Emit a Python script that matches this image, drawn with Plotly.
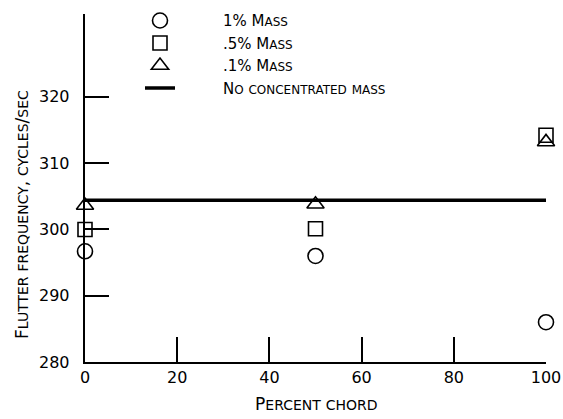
import plotly.graph_objects as go

chord = [0, 50, 100]
mass_1 = [296.7, 296.0, 286.0]
mass_05 = [300.0, 300.1, 314.2]
mass_01 = [303.6, 303.8, 313.2]
no_mass_x = [0, 100]
no_mass_y = [304.4, 304.4]
x_ticks = [0, 20, 40, 60, 80, 100]
y_ticks = [280, 290, 300, 310, 320]
y_tick_labels = ["280", "290", "300", "310", "320"]

FONT = "DejaVu Sans"

def sc(text, big=15, small=11):
    out = []
    for ch in text:
        if ch.isupper() or ch.isdigit() or ch in ".%/,":
            out.append(f"<span style='font-size:{big}px'>{ch}</span>")
        elif ch == " ":
            out.append(" ")
        else:
            out.append(f"<span style='font-size:{small}px'>{ch.upper()}</span>")
    return "".join(out)

pad = "&nbsp;" * 9
fig = go.Figure()
fig.add_trace(go.Scatter(x=chord, y=mass_1, mode="markers", name=pad + sc("1% Mass", 15, 12),
                         marker=dict(symbol="circle-open", size=15, color="black", line=dict(width=1.6)),
                         cliponaxis=False))
fig.add_trace(go.Scatter(x=chord, y=mass_05, mode="markers", name=pad + sc(".5% Mass", 15, 12),
                         marker=dict(symbol="square-open", size=14, color="black", line=dict(width=1.6)),
                         cliponaxis=False))
fig.add_trace(go.Scatter(x=chord, y=mass_01, mode="markers", name=pad + sc(".1% Mass", 15, 12),
                         marker=dict(symbol="triangle-up-open", size=15, color="black", line=dict(width=1.6)),
                         cliponaxis=False))
fig.add_trace(go.Scatter(x=no_mass_x, y=no_mass_y, mode="lines", name=pad + sc("No concentrated mass", 15, 12),
                         line=dict(color="black", width=3.5), cliponaxis=False))

fig.update_layout(
    width=563, height=419,
    margin=dict(l=85, r=17, t=14, b=57, autoexpand=False),
    plot_bgcolor="white", paper_bgcolor="white",
    font=dict(family=FONT, color="black", size=15),
    showlegend=True,
    legend=dict(x=(140 - 85) / 461, y=1.028, xanchor="left", yanchor="top",
                bgcolor="rgba(0,0,0,0)", font=dict(size=15), tracegroupgap=0,
                traceorder="normal"),
    xaxis=dict(range=[0, 100], tickvals=x_ticks, ticks="inside", ticklen=25,
               tickwidth=2.2, tickcolor="black", showline=True, linewidth=2.2, linecolor="black",
               showgrid=False, zeroline=False, tickfont=dict(size=16), automargin=False),
    yaxis=dict(range=[280, 332.5], tickvals=y_ticks, ticktext=[t + "\u2007" for t in y_tick_labels],
               ticks="inside", ticklen=24,
               tickwidth=2.2, tickcolor="black", showline=True, linewidth=2.2, linecolor="black",
               showgrid=False, zeroline=False, tickfont=dict(size=16), automargin=False),
    annotations=[
        dict(text=sc("Percent chord", 17, 14), xref="paper", yref="paper", x=0.5, y=(362 - 404) / 348,
             xanchor="center", yanchor="middle", showarrow=False),
        dict(text=sc("Flutter frequency, cycles/sec", 17, 14), xref="paper", yref="paper",
             x=(22 - 85) / 461, y=(362 - 215) / 348, xanchor="center", yanchor="middle", textangle=-90,
             showarrow=False),
    ],
)

fig.write_html("out.html")
